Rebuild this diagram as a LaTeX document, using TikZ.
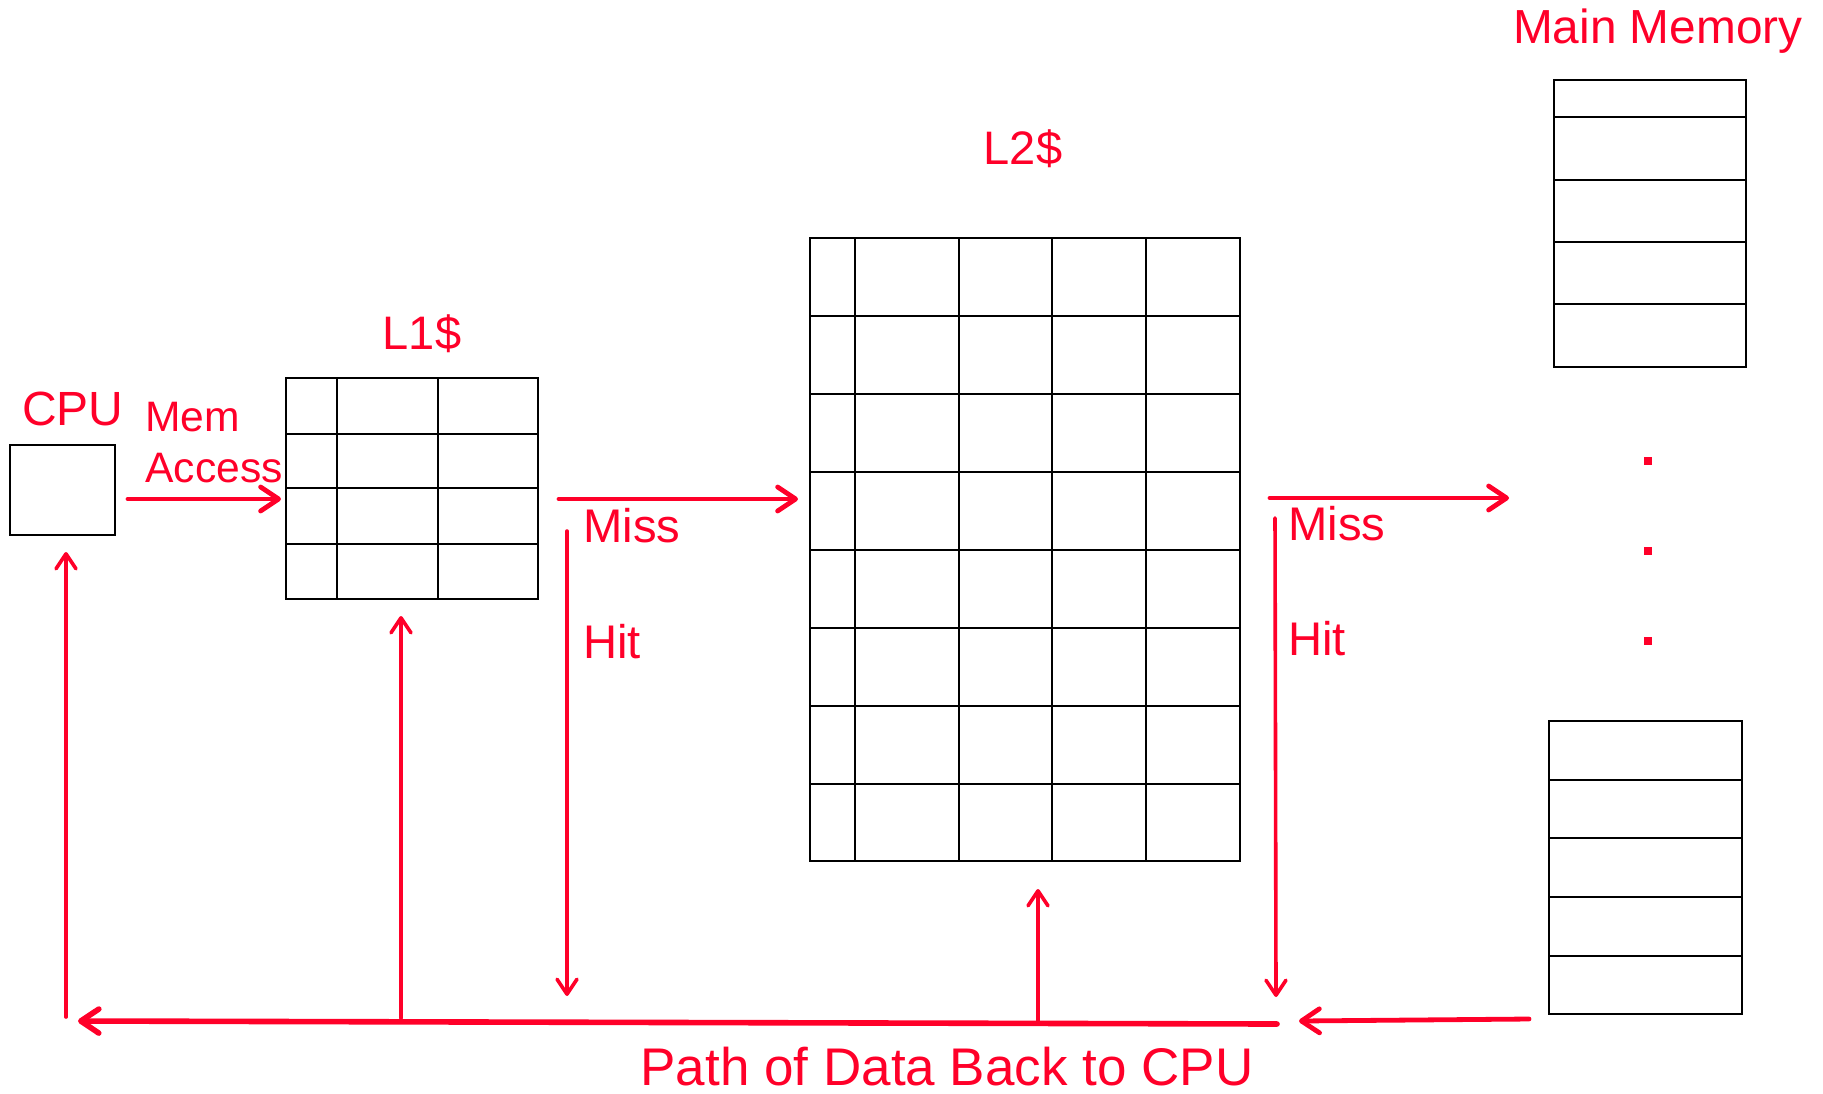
\documentclass[tikz,border=0pt]{standalone}
\usepackage{fontspec}
\setmainfont{Liberation Sans}
\usetikzlibrary{arrows.meta,fit}
\definecolor{pred}{RGB}{255,0,41}
\begin{document}
\begin{tikzpicture}[x=0.5pt,y=-0.5pt,
  lbl/.style={text=pred, inner sep=0pt, text depth=0pt},
  box/.style={draw=black, line width=1.25pt, inner sep=0pt, fill=none},
  gl/.style={draw=black, line width=1.25pt},
  flow/.style={draw=pred, line width=2.4pt, line cap=round,
    -{Straight Barb[length=9pt,width=12pt,line cap=round,line join=round]}},
  vflow/.style={draw=pred, line width=1.8pt, line cap=round,
    -{Straight Barb[length=7.5pt,width=10pt,line cap=round,line join=round]}},
  dotm/.style={fill=pred, inner sep=0pt, minimum size=4pt}
]
\useasboundingbox (0,0) rectangle (1823,1093);

% CPU
\node[box, fit={(10,445) (115,535)}] (cpu) {};
\node[lbl, font=\fontsize{24}{26}\selectfont, anchor=base] (cpulbl) at (73,425) {CPU};
\node[lbl, font=\fontsize{21.3}{24}\selectfont, anchor=base west] (memlbl) at (145,431) {Mem};
\node[lbl, font=\fontsize{21.3}{24}\selectfont, anchor=base west] (acclbl) at (145,482) {Access};

% L1 cache
\node[box, fit={(286,378) (538,599)}] (l1) {};
\foreach \x in {337,438} \draw[gl] (\x,378) -- (\x,599);
\foreach \y in {434,488,544} \draw[gl] (286,\y) -- (538,\y);
\node[lbl, font=\fontsize{23.5}{26}\selectfont, anchor=base] (l1lbl) at (422,349) {L1\$};

% L2 cache
\node[box, fit={(810,238) (1240,861)}] (l2) {};
\foreach \x in {855,959,1052,1146} \draw[gl] (\x,238) -- (\x,861);
\foreach \y in {316,394,472,550,628,706,784} \draw[gl] (810,\y) -- (1240,\y);
\node[lbl, font=\fontsize{23.5}{26}\selectfont, anchor=base] (l2lbl) at (1023,164) {L2\$};

% Main memory
\node[lbl, font=\fontsize{23.9}{26}\selectfont, anchor=base east] (mmlbl) at (1803,43) {Main Memory};
\node[box, fit={(1554,80) (1746,367)}] (mmtop) {};
\foreach \y in {117,180,242,304} \draw[gl] (1554,\y) -- (1746,\y);
\node[box, fit={(1549,721) (1742,1014)}] (mmbot) {};
\foreach \y in {780,838,897,956} \draw[gl] (1549,\y) -- (1742,\y);
\node[dotm] (d1) at (1648,461) {};
\node[dotm] (d2) at (1648,551) {};
\node[dotm] (d3) at (1648,641) {};

% labels Miss / Hit
\node[lbl, font=\fontsize{23.6}{26}\selectfont, anchor=base west] (miss1) at (583,542) {Miss};
\node[lbl, font=\fontsize{23.6}{26}\selectfont, anchor=base west] (hit1) at (583,658) {Hit};
\node[lbl, font=\fontsize{23.6}{26}\selectfont, anchor=base west] (miss2) at (1288,540) {Miss};
\node[lbl, font=\fontsize{23.6}{26}\selectfont, anchor=base west] (hit2) at (1288,655) {Hit};
\node[lbl, font=\fontsize{26.5}{30}\selectfont, anchor=base] (pathlbl) at (947,1085) {Path of Data Back to CPU};

% connector end points
\coordinate (a1s) at (128,499);  \coordinate (a1e) at (281,499);
\coordinate (m1s) at (559,499);  \coordinate (m1e) at (798,499);
\coordinate (h1s) at (567,531);  \coordinate (h1e) at (567,996);
\coordinate (m2s) at (1270,498); \coordinate (m2e) at (1509,498);
\coordinate (h2s) at (1275,518); \coordinate (h2e) at (1276,997);
\coordinate (b1s) at (1529,1019); \coordinate (b1e) at (1299,1021);
\coordinate (b2s) at (1277,1024); \coordinate (b2e) at (78,1021);
\coordinate (u1s) at (66,1017);  \coordinate (u1e) at (66,552);
\coordinate (u2s) at (401,1018); \coordinate (u2e) at (401,616);
\coordinate (u3s) at (1038,1022); \coordinate (u3e) at (1038,889);

% arrows
\draw[flow] (a1s) -- (a1e);
\draw[flow] (m1s) -- (m1e);
\draw[flow] (m2s) -- (m2e);
\draw[vflow] (h1s) -- (h1e);
\draw[vflow] (h2s) -- (h2e);
\draw[flow] (b1s) -- (b1e);
\draw[flow, line width=2.8pt] (b2s) -- (b2e);
\draw[vflow] (u1s) -- (u1e);
\draw[vflow] (u2s) -- (u2e);
\draw[vflow] (u3s) -- (u3e);
\end{tikzpicture}
\end{document}
